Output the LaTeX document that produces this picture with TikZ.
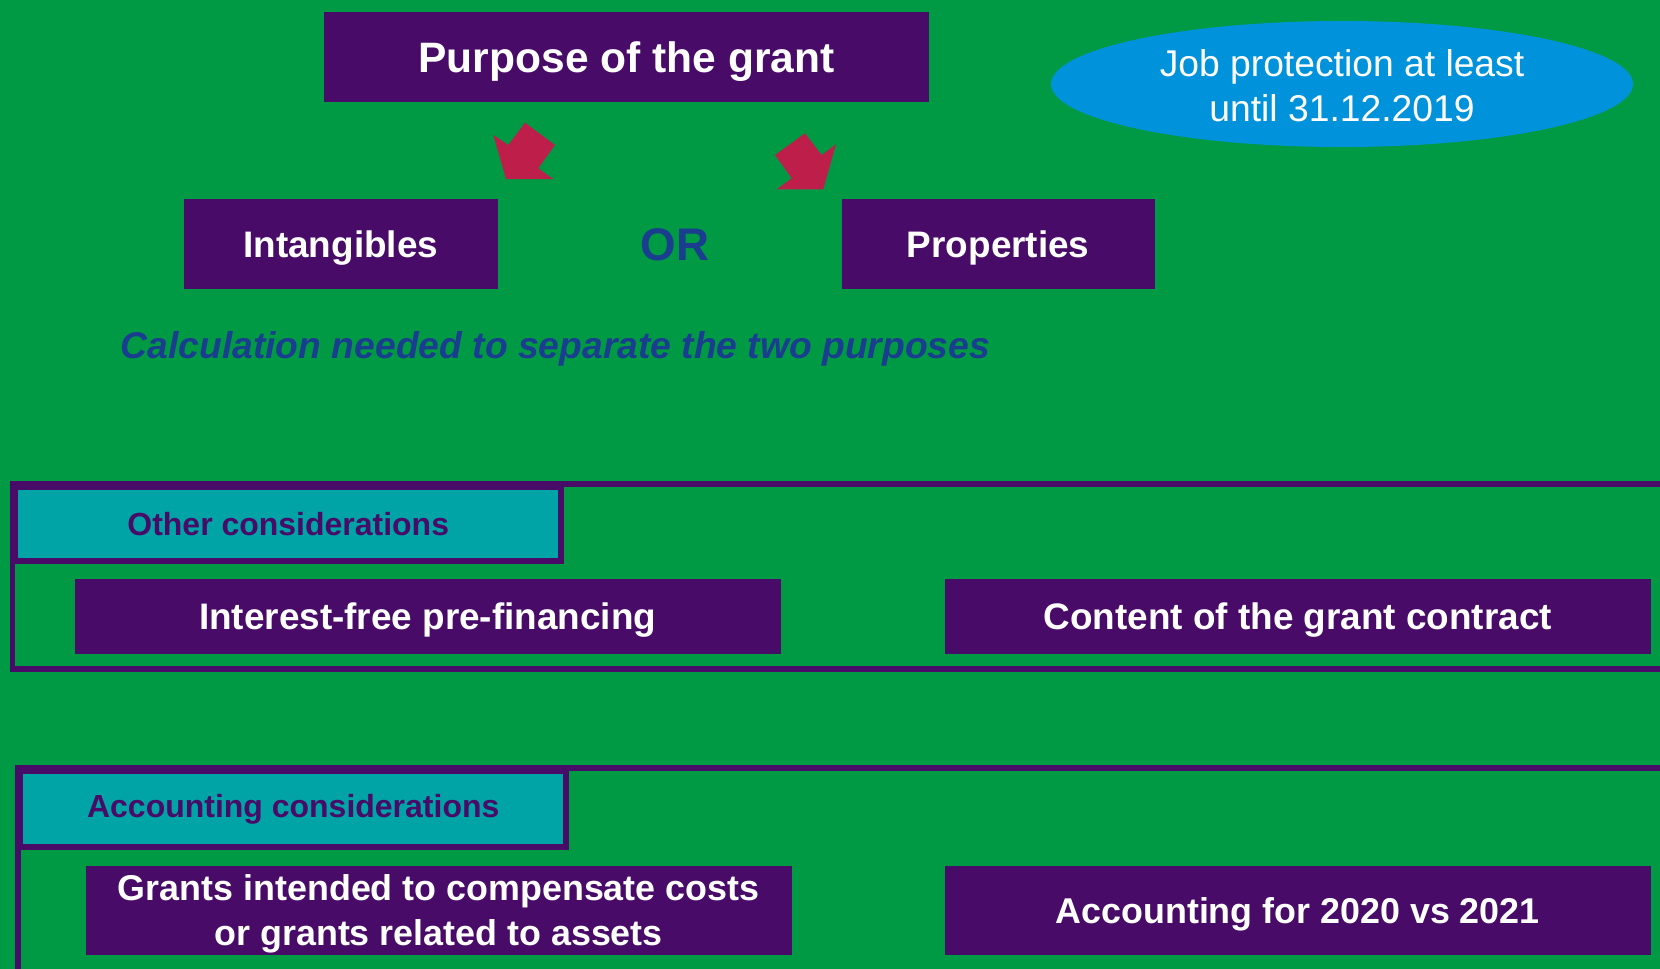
\documentclass[tikz,border=0pt]{standalone}
\usepackage{fontspec}
\setmainfont{Liberation Sans}
\usetikzlibrary{positioning,shapes.geometric}

\tikzset{
  box/.style={fill=boxpurple,text=white,font=\bfseries\fontsize{10.5}{12.7}\selectfont,
    inner sep=0pt,anchor=north west,minimum width=70.6mm,align=center,text depth=0pt},
  header/.style={draw=boxpurple,line width=0.6mm,fill=headteal,text=boxpurple,
    font=\bfseries\fontsize{9.1}{11}\selectfont,inner sep=0pt,anchor=north west,
    minimum width=54.55mm},
  frameline/.style={draw=boxpurple,line width=0.6mm}
}

\begin{document}
\begin{tikzpicture}[x=0.1mm,y=-0.1mm]
\definecolor{bggreen}{HTML}{009A44}
\definecolor{boxpurple}{HTML}{490B68}
\definecolor{headteal}{HTML}{00A3A6}
\definecolor{jobblue}{HTML}{0092DB}
\definecolor{arrowred}{HTML}{BE1E4A}
\definecolor{orblue}{HTML}{1A3D8F}
\fill[bggreen] (0,0) rectangle (1660,969);
\useasboundingbox (0,0) rectangle (1660,969);
\clip (0,0) rectangle (1660,969);

% purpose of the grant
\node[box,font=\bfseries\fontsize{12.1}{14}\selectfont,minimum width=60.55mm,minimum height=9mm] (purpose) at (323,11.6) {Purpose of the grant};
\node[box,minimum width=31.4mm,minimum height=9mm] (intang) at (183,198) {Intangibles};
\node[box,minimum width=31.3mm,minimum height=9mm] (props) at (841,198) {Properties};
\node[text=orblue,font=\bfseries\fontsize{13}{15}\selectfont] (or) at (675,245) {OR};
\node[ellipse,fill=jobblue,text=white,inner sep=0pt,minimum width=58.2mm,minimum height=12.6mm,
  align=center,font=\fontsize{10.6}{12.7}\selectfont] (job) at (1342,84) {};
\node[align=center,text=white,font=\fontsize{10.6}{12.7}\selectfont] (jobtext) at (1342,86) {Job protection at least\\until 31.12.2019};
\node[anchor=west,inner sep=0pt,text=orblue,font=\bfseries\itshape\fontsize{10.6}{12.7}\selectfont] (calc) at (120,349)
  {Calculation needed to separate the two purposes};
\fill[arrowred] (493.3,135) -- (508.3,145) -- (525,122.7) -- (555,145) -- (538.3,168.3) -- (553.3,179) -- (506,179) -- cycle;
\fill[arrowred] (775,155) -- (805,133.3) -- (821.7,155) -- (836,144.3) -- (823.3,189.3) -- (776.7,189.3) -- (791.7,178.3) -- cycle;

% the two frames
\draw[frameline] (1670,484) -| (12.5,669) -- (1670,669);
\draw[frameline] (1670,768) -| (17.5,990);
\node[header,minimum height=7.4mm] (other) at (12.5,484) {Other considerations};
\node[header,minimum height=7.57mm] (acchead) at (17.5,768) {Accounting considerations};
\foreach \nm/\x/\y/\h/\fs/\txt in {interest/74/578/7.5/10.5/Interest-free pre-financing,
  contract/944/578/7.5/10.5/Content of the grant contract,
  grants/85/865/8.9/10.2/Grants intended to compensate costs\\or grants related to assets,
  accyear/944/865/8.9/10.2/Accounting for 2020 vs 2021}
  \node[box,font=\bfseries\fontsize{\fs}{12.7}\selectfont,minimum height=\h mm] (\nm) at (\x,\y) {\txt};
\end{tikzpicture}
\end{document}
